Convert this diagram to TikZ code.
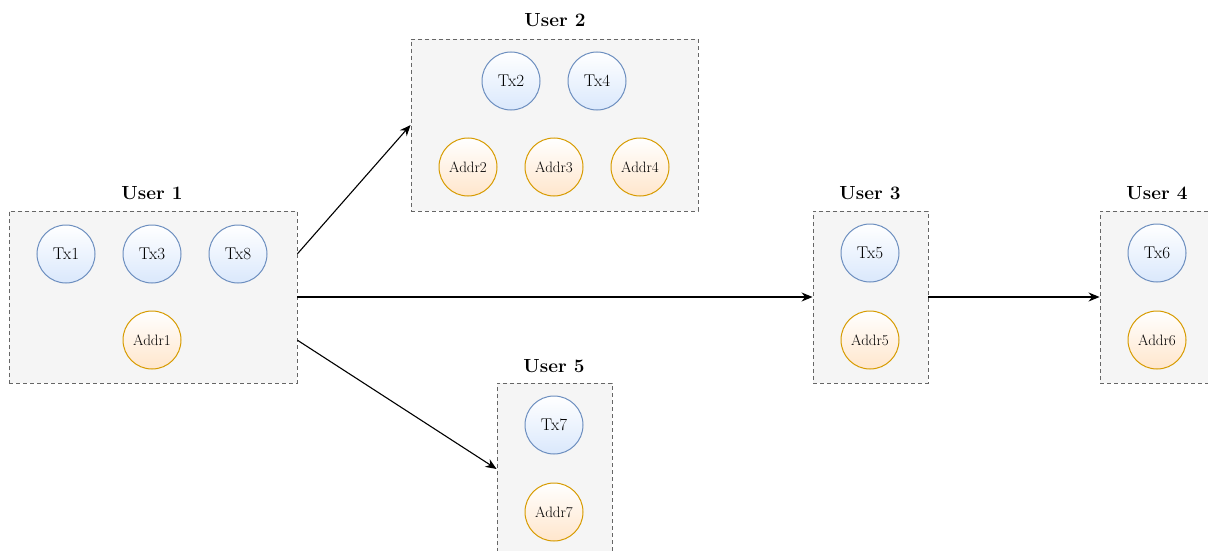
\documentclass[tikz,border=0pt]{standalone}
\usepackage{fontspec}
\usetikzlibrary{arrows.meta,calc}
\definecolor{boxfill}{HTML}{F5F5F5}
\definecolor{boxline}{HTML}{666666}
\definecolor{txline}{HTML}{6C8EBF}
\definecolor{txfill}{HTML}{DAE8FC}
\definecolor{addrline}{HTML}{D79B00}
\definecolor{addrfill}{HTML}{FFE6CC}
\tikzset{
  ubox/.style={draw=boxline, fill=boxfill, line width=0.9pt, dash pattern=on 4pt off 3pt, inner sep=0pt},
  utitle/.style={font=\fontsize{19}{21}\selectfont\bfseries, inner sep=0pt},
  txnode/.style={circle, draw=txline, line width=1pt, top color=white, bottom color=txfill, minimum size=58pt, inner sep=0pt, font=\fontsize{17}{19}\selectfont},
  addrnode/.style={circle, draw=addrline, line width=1pt, top color=white, bottom color=addrfill, minimum size=58pt, inner sep=0pt, font=\fontsize{15}{17}\selectfont},
  link/.style={-{Stealth[length=11pt,width=9pt]}, line width=1.1pt, black},
}
\begin{document}
\begin{tikzpicture}[x=1pt, y=-1pt]
\clip (0,0) rectangle (1208,551);
\useasboundingbox (0,0) rectangle (1208,551);

% User 1
\node[ubox, minimum width=288pt, minimum height=172pt] (u1) at (153,297) {};
\node[utitle] (t1) at (152,193) {User 1};
\node[txnode] (tx1) at (66,254) {Tx1};
\node[txnode] (tx3) at (152,254) {Tx3};
\node[txnode] (tx8) at (238,254) {Tx8};
\node[addrnode] (a1) at (152,340) {Addr1};

% User 2
\node[ubox, minimum width=287pt, minimum height=172pt] (u2) at (554.5,125) {};
\node[utitle] (t2) at (555,20) {User 2};
\node[txnode] (tx2) at (511,81) {Tx2};
\node[txnode] (tx4) at (597,81) {Tx4};
\node[addrnode] (a2) at (468,167) {Addr2};
\node[addrnode] (a3) at (554,167) {Addr3};
\node[addrnode] (a4) at (640,167) {Addr4};

% User 3
\node[ubox, minimum width=115pt, minimum height=172pt] (u3) at (870.5,297) {};
\node[utitle] (t3) at (870,193) {User 3};
\node[txnode] (tx5) at (870,253) {Tx5};
\node[addrnode] (a5) at (870,340) {Addr5};

% User 4
\node[ubox, minimum width=115pt, minimum height=172pt] (u4) at (1157.5,297) {};
\node[utitle] (t4) at (1157,193) {User 4};
\node[txnode] (tx6) at (1157,253) {Tx6};
\node[addrnode] (a6) at (1157,340) {Addr6};

% User 5
\node[ubox, minimum width=115pt, minimum height=172pt] (u5) at (554.5,469) {};
\node[utitle] (t5) at (554,366) {User 5};
\node[txnode] (tx7) at (554,425) {Tx7};
\node[addrnode] (a7) at (554,512) {Addr7};

% Links between users
\draw[link] ($(u1.north east)!0.25!(u1.south east)$) -- (u2.west);
\draw[link] (u1.east) -- (u3.west);
\draw[link] ($(u1.north east)!0.75!(u1.south east)$) -- (u5.west);
\draw[link] (u3.east) -- (u4.west);
\end{tikzpicture}
\end{document}
